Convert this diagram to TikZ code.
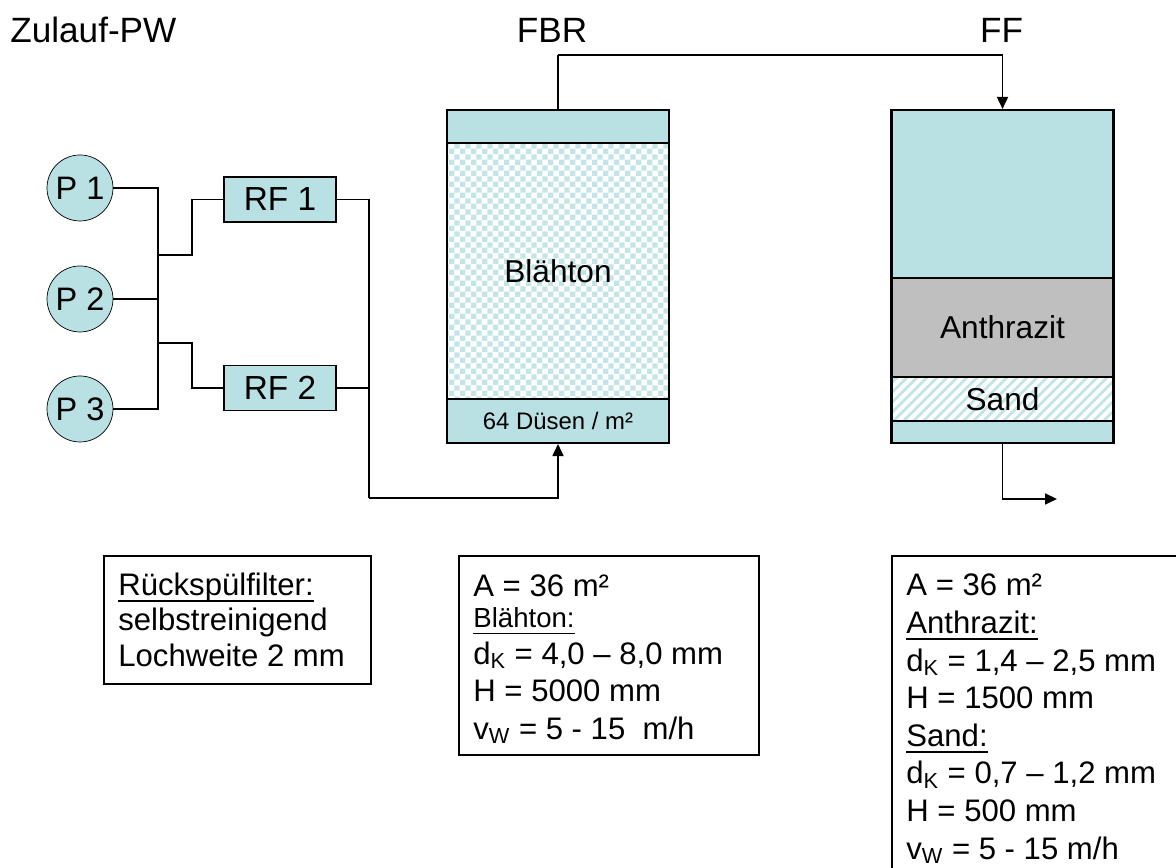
\documentclass[tikz,border=0pt]{standalone}
\usepackage{fontspec}
\setmainfont{Liberation Sans}
\usepackage{tikz}
\usetikzlibrary{positioning,arrows.meta,patterns,patterns.meta}
\definecolor{pwteal}{HTML}{B9E0E3}
\definecolor{pwgray}{HTML}{BFBFBF}
\pgfdeclarepatternformonly{pwcheck}{\pgfpointorigin}{\pgfqpoint{6.4pt}{6.4pt}}{\pgfqpoint{6.4pt}{6.4pt}}{
  \pgfpathrectangle{\pgfpointorigin}{\pgfqpoint{3.2pt}{3.2pt}}
  \pgfpathrectangle{\pgfqpoint{3.2pt}{3.2pt}}{\pgfqpoint{3.2pt}{3.2pt}}
  \pgfusepath{fill}
}
\newcommand{\ulbar}[1]{\leavevmode\setbox0=\hbox{#1}\rlap{\rule[-3.7pt]{\wd0}{1pt}}\box0}
\tikzset{
  pump/.style={circle, draw, fill=pwteal, minimum size=13.2mm, inner sep=0pt, font=\fontsize{18.5}{20}\selectfont},
  rf/.style={rectangle, draw, line width=1.1pt, fill=pwteal, minimum width=22.4mm, minimum height=9mm, inner sep=0pt, font=\fontsize{19}{20}\selectfont},
  layer/.style={rectangle, draw, line width=1.2pt, minimum width=44.4mm, inner sep=0pt, font=\fontsize{18}{20}\selectfont},
  pipe/.style={line width=1pt},
  flow/.style={line width=1pt, -{Triangle[length=2.4mm,width=2.2mm]}},
  head/.style={inner sep=0pt, font=\fontsize{20}{22}\selectfont},
  info/.style={rectangle, draw, line width=1pt, anchor=north west, align=flush left, inner ysep=0pt, inner xsep=2.9mm, font=\fontsize{17.7}{20.2}\selectfont},
}
\begin{document}
\begin{tikzpicture}
  \useasboundingbox (0,0) rectangle (23.52,17.36);
  \node[head, anchor=west] (zulauf) at (0.2,16.76) {Zulauf-PW};
  \node[head] (fbr) at (11.04,16.76) {FBR};
  \node[head] (ff) at (20.03,16.76) {FF};
  % pumps and filters
  \node[pump] (p1) at (1.6,13.6) {P 1};
  \node[pump] (p2) at (1.6,11.38) {P 2};
  \node[pump] (p3) at (1.6,9.18) {P 3};
  \node[rf] (rf1) at (5.6,13.37) {RF 1};
  \node[rf] (rf2) at (5.6,9.6) {RF 2};
  % FBR column
  \node[layer, fill=pwteal, minimum height=6.6mm] (fbrtop) at (11.16,14.83) {};
  \node[layer, pattern=pwcheck, pattern color=pwteal!85, minimum height=51.2mm] (fbrbed) at (11.16,11.94) {Blähton};
  \node[layer, fill=pwteal, minimum height=8.8mm, font=\fontsize{13.6}{15}\selectfont] (fbrfloor) at (11.16,8.94) {64 Düsen / m²};
  % FF column
  \node[layer, fill=pwteal, minimum height=33.6mm] (fftop) at (20.05,13.48) {};
  \node[layer, fill=pwgray, minimum height=19.8mm] (ffanth) at (20.05,10.81) {Anthrazit};
  \node[layer, pattern={Lines[angle=45,distance=4pt,line width=1.7pt]}, pattern color=pwteal!85, minimum height=8.8mm] (ffsand) at (20.05,9.38) {Sand};
  \node[layer, fill=pwteal, minimum height=4.4mm] (fffloor) at (20.05,8.72) {};
  % junctions
  \coordinate (busa) at (3.16,13.6);
  \coordinate (busb) at (3.16,9.18);
  \coordinate (jup) at (3.16,12.26);
  \coordinate (kup) at (3.84,12.26);
  \coordinate (jdn) at (3.16,10.5);
  \coordinate (kdn) at (3.84,10.5);
  \coordinate (ret) at (7.38,7.4);
  \coordinate (over) at (11.16,16.26);
  \coordinate (out) at (21.14,7.38);
  \draw[pipe] (p1) -- (busa) -- (busb) -- (p3);
  \draw[pipe] (p2) -- (p2 -| busa);
  \draw[pipe] (jup) -- (kup) |- (rf1);
  \draw[pipe] (jdn) -- (kdn) |- (rf2);
  \draw[pipe] (rf1) -| (ret);
  \draw[pipe] (rf2) -- (rf2 -| ret);
  \draw[flow] (ret) -| (fbrfloor);
  \draw[pipe] (fbrtop) -- (over);
  \draw[flow] (over) -| (fftop);
  \draw[flow] (fffloor) |- (out);
  % data boxes
  \node[info, text width=47.6mm, minimum height=25.6mm] (infofilter) at (2.06,6.26)
    {\ulbar{Rückspülfilter:}\\ selbstreinigend\\ Lochweite 2 mm};
  \node[info, text width=54.2mm, minimum height=39.8mm] (infofbr) at (9.16,6.26)
    {\rule{0pt}{5.9mm}A = 36 m²\\[-0.8mm]
     {\fontsize{15.7}{18}\selectfont\ulbar{Blähton:}}\\[0.2mm]
     d\textsubscript{K} = 4,0 – 8,0 mm\\[0.4mm]
     H = 5000 mm\\[0.4mm]
     v\textsubscript{W} = 5 - 15~ m/h};
  \node[info, text width=54.2mm, minimum height=65.2mm, font=\fontsize{17.7}{21.4}\selectfont] (infoff) at (17.82,6.26)
    {A = 36 m²\\
     \ulbar{Anthrazit:}\\
     d\textsubscript{K} = 1,4 – 2,5 mm\\
     H = 1500 mm\\
     \ulbar{Sand:}\\
     d\textsubscript{K} = 0,7 – 1,2 mm\\
     H = 500 mm\\
     v\textsubscript{W} = 5 - 15 m/h};
\end{tikzpicture}
\end{document}
